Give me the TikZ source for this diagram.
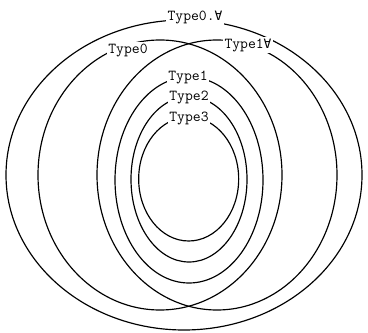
\documentclass[tikz,border=0pt]{standalone}
\usepackage{fontspec}
\newfontfamily\symfont{DejaVu Sans Mono}
\newcommand{\fa}{{\symfont\fontsize{11}{13}\selectfont\char"2200}}
\tikzset{
  set/.style={line width=1pt},
  setname/.style={fill=white, inner sep=1pt, font=\ttfamily\fontsize{13}{15}\selectfont}
}
\begin{document}
\begin{tikzpicture}
    \useasboundingbox (0,0) rectangle (11.04,9.96);

    % Outer set
    \draw[set] (5.52,4.71) ellipse (5.34 and 4.65);

    % Two overlapping sets
    \draw[set] (4.80,4.71) ellipse (3.66 and 4.05);
    \draw[set] (6.51,4.71) ellipse (3.60 and 4.05);

    % Nested sets
    \draw[set] (5.67,4.56) ellipse (2.22 and 3.09);
    \draw[set] (5.67,4.58) ellipse (1.74 and 2.48);
    \draw[set] (5.66,4.59) ellipse (1.50 and 1.86);

    % Labels
    \node[setname] (t0all) at (5.85,9.45) {Type0.\fa};
    \node[setname] (t0) at (3.84,8.46) {Type0};
    \node[setname] (t1all) at (7.44,8.61) {Type1\fa};
    \node[setname] (t1) at (5.64,7.65) {Type1};
    \node[setname] (t2) at (5.67,7.05) {Type2};
    \node[setname] (t3) at (5.67,6.42) {Type3};
\end{tikzpicture}
\end{document}
